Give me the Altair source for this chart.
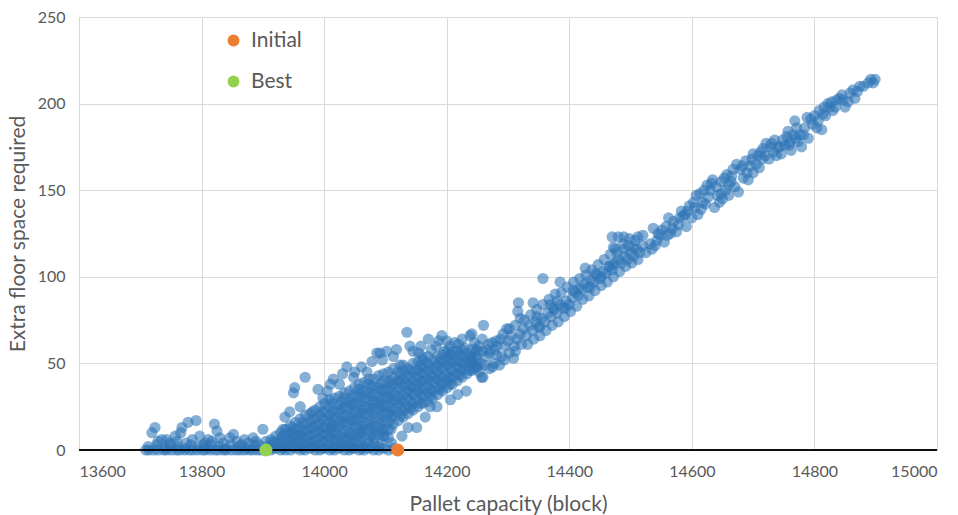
import altair as alt
import pandas as pd

# ---------------- data ----------------
x_ticks = [13600, 13800, 14000, 14200, 14400, 14600, 14800, 15000]
y_ticks = [0, 50, 100, 150, 200, 250]

# left tail, lying on / near zero
tail_zero_x = [13709, 13714, 13722, 13729, 13738, 13743, 13751, 13759, 13764, 13772,
               13780, 13786, 13793, 13801, 13806, 13814, 13822, 13828, 13836, 13841,
               13849, 13857, 13863, 13870, 13878, 13884, 13891, 13897]
tail_pts = [(13713, 2), (13727, 3), (13741, 1), (13749, 3), (13761, 2), (13774, 1),
            (13783, 3), (13796, 2), (13809, 1), (13816, 3), (13829, 2), (13839, 1),
            (13848, 3), (13861, 2), (13874, 1), (13887, 3),
            (13719, 10), (13724, 13), (13735, 6), (13743, 6), (13748, 4), (13757, 8),
            (13766, 10), (13768, 13), (13775, 4), (13778, 16), (13791, 17), (13797, 8),
            (13803, 3), (13806, 4), (13811, 6), (13821, 15), (13825, 11), (13830, 7),
            (13835, 4), (13846, 7), (13852, 9), (13858, 5), (13865, 3), (13870, 6),
            (13876, 4), (13884, 7), (13889, 5), (13893, 3), (13900, 12), (13729, 5),
            (13760, 5), (13785, 6), (13817, 5)]

# dense cloud 13900-14250: x positions and the y values seen at each
blob_x = [13905, 13913, 13921, 13929, 13937, 13945, 13953, 13961, 13969, 13977,
          13985, 13993, 14001, 14009, 14017, 14025, 14033, 14041, 14049, 14057,
          14065, 14073, 14081, 14089, 14097, 14105, 14113, 14121, 14129, 14137,
          14145, 14153, 14161, 14169, 14177, 14185, 14193, 14201, 14209, 14217,
          14225, 14233, 14241, 14249]
blob_y = [[0, 2, 5], [0, 3, 6], [1, 4, 8], [0, 3, 6, 10], [0, 2, 5, 9, 12],
          [0, 3, 7, 10, 14], [1, 4, 8, 12, 16], [0, 2, 6, 9, 13, 18],
          [0, 3, 7, 11, 15, 20], [1, 4, 8, 12, 16, 21], [0, 2, 6, 10, 14, 18, 23],
          [0, 3, 7, 11, 15, 20, 25], [1, 5, 9, 13, 17, 22, 27],
          [0, 3, 7, 11, 16, 20, 25, 29], [0, 2, 6, 10, 14, 19, 23, 30],
          [1, 4, 8, 13, 17, 22, 26, 31], [0, 3, 7, 11, 16, 20, 25, 30, 33],
          [0, 2, 6, 10, 15, 19, 24, 28, 34], [1, 5, 9, 14, 18, 23, 27, 32, 36],
          [0, 3, 8, 12, 17, 21, 26, 31, 35, 38], [0, 2, 7, 12, 16, 21, 25, 30, 34, 39],
          [1, 5, 11, 15, 20, 24, 29, 33, 38, 41], [0, 4, 10, 14, 19, 24, 28, 32, 37, 41],
          [0, 2, 9, 13, 18, 23, 27, 31, 36, 43], [1, 8, 12, 17, 22, 26, 31, 35, 40, 44],
          [0, 7, 12, 16, 21, 25, 30, 34, 39, 45], [1, 15, 20, 24, 29, 33, 38, 42, 47],
          [0, 17, 22, 27, 31, 36, 40, 45], [19, 23, 28, 32, 37, 41, 46, 49],
          [21, 25, 30, 34, 38, 43, 47], [23, 27, 32, 36, 40, 45, 50],
          [25, 29, 34, 38, 42, 46, 51], [27, 31, 35, 40, 44, 48, 52],
          [28, 33, 37, 41, 46, 50, 54], [30, 34, 39, 43, 47, 52],
          [32, 36, 41, 45, 49, 54], [34, 38, 42, 47, 51, 55], [36, 40, 44, 49, 53, 57],
          [38, 42, 46, 51, 55], [40, 44, 48, 52, 57], [42, 46, 50, 54, 58],
          [44, 48, 52, 56], [46, 50, 54, 58], [48, 52, 57]]

# in-between points of the same cloud
blob2_x = [13917, 13933, 13949, 13965, 13981, 13997, 14013, 14029, 14045, 14061,
           14077, 14093, 14109, 14125, 14141, 14157, 14173, 14189, 14205, 14221, 14237]
blob2_y = [[1, 5], [1, 4, 8, 12], [2, 6, 9, 13], [1, 4, 8, 11, 16],
           [2, 5, 9, 13, 18, 22], [1, 5, 9, 13, 18, 22], [1, 5, 9, 13, 18, 22, 27],
           [2, 6, 10, 15, 19, 24, 28], [1, 4, 8, 12, 17, 21, 26, 30],
           [1, 5, 10, 14, 19, 23, 28, 33], [2, 8, 13, 17, 22, 26, 31, 36],
           [4, 11, 15, 20, 25, 29, 34, 38], [12, 18, 22, 27, 31, 36, 40],
           [20, 25, 29, 34, 39, 43], [24, 28, 33, 37, 42, 46], [27, 32, 36, 40, 45, 49],
           [31, 35, 40, 44, 49], [35, 39, 43, 48, 52], [38, 42, 47, 51, 55],
           [43, 47, 51, 55], [46, 50, 54]]

# sparse points above and below the dense cloud
scatter_pts = [(13936, 19), (13944, 22), (13950, 33), (13952, 36), (13961, 25),
               (13969, 42), (13990, 35), (13998, 30), (14010, 38), (14015, 41),
               (14030, 44), (14037, 48), (14048, 42), (14061, 48), (14070, 45),
               (14078, 51), (14086, 56), (14091, 56), (14102, 57), (14113, 54),
               (14124, 49), (14135, 68), (14145, 57), (14154, 56), (14160, 54),
               (14170, 64), (14187, 63), (14192, 66), (14196, 57), (14205, 60),
               (14213, 62), (14219, 61), (14229, 59), (14238, 66), (14241, 67),
               (14127, 8), (14137, 13), (14151, 13), (14165, 19), (14173, 25),
               (14184, 25), (14206, 29), (14218, 32), (14232, 34), (14110, 4),
               (14098, 8), (14080, 7), (14061, 10), (14012, 14), (14257, 42),
               (14259, 42), (14250, 48), (14275, 48), (14158, 60), (14175, 58),
               (14200, 63), (14225, 64), (14210, 57), (14183, 60), (14140, 60),
               (14118, 58), (14095, 52), (14050, 45), (14025, 38), (14005, 34)]

# ridge 14240-14520
ridge_pts = [(14240, 52), (14249, 54), (14255, 50), (14265, 54), (14270, 56),
             (14281, 55), (14290, 54), (14309, 53), (14245, 62), (14252, 60),
             (14258, 64), (14266, 58), (14274, 62), (14282, 60), (14288, 64),
             (14295, 60), (14300, 63), (14305, 66), (14310, 60), (14315, 64),
             (14320, 67), (14325, 70), (14330, 66), (14335, 72), (14340, 69),
             (14345, 74), (14350, 71), (14355, 76), (14360, 74), (14365, 79),
             (14370, 77), (14375, 81), (14380, 79), (14385, 84), (14390, 82),
             (14395, 86), (14400, 84), (14405, 88), (14410, 91), (14415, 89),
             (14420, 93), (14425, 96), (14430, 94), (14435, 98), (14440, 97),
             (14445, 101), (14450, 99), (14455, 103), (14460, 102), (14465, 106),
             (14470, 104), (14475, 108), (14480, 110), (14485, 108), (14490, 112),
             (14495, 110), (14500, 114), (14505, 112), (14510, 116), (14515, 114),
             (14520, 118),
             (14260, 72), (14281, 63), (14298, 70), (14316, 80), (14317, 85),
             (14320, 76), (14341, 85), (14347, 77), (14352, 71), (14357, 99),
             (14369, 84), (14374, 82), (14380, 86), (14385, 97), (14394, 82),
             (14406, 92), (14415, 93), (14426, 105), (14434, 94), (14443, 102),
             (14452, 100), (14466, 106), (14471, 107), (14472, 117), (14470, 123),
             (14480, 123), (14489, 123), (14498, 122), (14507, 121), (14475, 116),
             (14490, 116), (14505, 117)]
ridge_extra = [(14245, 47), (14253, 45), (14262, 49), (14270, 47), (14278, 50),
               (14286, 49), (14294, 52), (14302, 56), (14312, 57), (14322, 61),
               (14332, 61), (14342, 64), (14352, 66), (14362, 69), (14372, 72),
               (14382, 74), (14392, 77), (14402, 80), (14412, 83), (14422, 87),
               (14432, 89), (14442, 92), (14452, 95), (14462, 97), (14472, 100),
               (14482, 103), (14492, 106), (14502, 108), (14512, 110), (14248, 58),
               (14258, 57), (14268, 61), (14278, 58), (14292, 67), (14302, 70),
               (14312, 72), (14327, 75), (14337, 78), (14347, 81), (14357, 84),
               (14367, 87), (14377, 90), (14387, 91), (14397, 94), (14407, 97),
               (14417, 99), (14427, 101), (14437, 104), (14447, 107), (14457, 110),
               (14467, 113), (14478, 114), (14488, 119), (14497, 118), (14512, 123),
               (14520, 124)]

# upper part 14520-14900
upper_pts = [(14532, 119), (14543, 121), (14537, 128), (14551, 127), (14560, 124),
             (14570, 132), (14578, 130), (14583, 138), (14589, 136), (14591, 129),
             (14600, 134), (14605, 140), (14610, 136), (14613, 148), (14618, 143),
             (14622, 142), (14627, 146), (14632, 154), (14640, 152), (14648, 148),
             (14637, 140), (14645, 143), (14650, 145), (14655, 150), (14657, 159),
             (14664, 155), (14670, 152), (14676, 149), (14673, 165), (14684, 157),
             (14679, 162), (14690, 160), (14695, 164), (14700, 171), (14705, 165),
             (14710, 163), (14715, 168), (14721, 177), (14726, 168), (14733, 172),
             (14738, 170), (14744, 175), (14746, 171), (14752, 176), (14760, 178),
             (14765, 182), (14771, 186), (14776, 182), (14779, 175), (14768, 190),
             (14784, 186), (14788, 192), (14790, 180), (14797, 188), (14804, 186),
             (14812, 185), (14814, 194), (14818, 193), (14825, 198), (14830, 196),
             (14836, 202), (14841, 203), (14847, 202), (14855, 201), (14850, 198),
             (14863, 208), (14866, 203), (14874, 210), (14888, 212), (14896, 212),
             (14899, 214), (14730, 177), (14741, 175), (14759, 176), (14773, 178),
             (14562, 134), (14575, 126), (14596, 141), (14607, 147), (14660, 147),
             (14630, 150), (14548, 124), (14586, 135), (14634, 156), (14653, 157),
             (14667, 162), (14700, 160), (14716, 174), (14755, 181), (14808, 196),
             (14822, 200), (14540, 118), (14555, 120), (14565, 125)]
upper_extra = [(14525, 114), (14535, 116), (14545, 125), (14558, 129), (14568, 128),
               (14580, 134), (14593, 138), (14603, 143), (14615, 139), (14620, 150),
               (14625, 153), (14642, 147), (14648, 155), (14660, 153), (14665, 158),
               (14682, 164), (14688, 167), (14692, 156), (14698, 168), (14708, 170),
               (14712, 172), (14720, 170), (14728, 175), (14735, 179), (14748, 179),
               (14757, 184), (14762, 173), (14770, 180), (14782, 182), (14794, 191),
               (14800, 193), (14806, 190), (14816, 198), (14828, 201), (14834, 198),
               (14845, 205), (14858, 206), (14870, 207), (14880, 210), (14892, 214)]

special_names = ["Initial", "Best"]
special_x = [14120, 13905]
special_y = [0, 0]
special_colors = ["#ED7D31", "#92D050"]

# ---------------- build table ----------------
rows = [(x, 0) for x in tail_zero_x] + tail_pts
for bx, ys in zip(blob_x, blob_y):
    rows += [(bx, y) for y in ys]
for bx, ys in zip(blob2_x, blob2_y):
    rows += [(bx, y) for y in ys]
rows += scatter_pts + ridge_pts + ridge_extra + upper_pts + upper_extra
df = pd.DataFrame(rows, columns=["capacity", "floor"])
sp = pd.DataFrame({"capacity": special_x, "floor": special_y, "name": special_names})

FONT = "Lato"
GREY = "#595959"

xscale = alt.Scale(domain=[13600, 15000], nice=False, zero=False)
yscale = alt.Scale(domain=[0, 250], nice=False)

xaxis = alt.Axis(values=x_ticks, title="Pallet capacity (block)", domain=False, ticks=False,
                 grid=True, gridColor="#D9D9D9", labelFont=FONT, labelFontSize=16,
                 labelColor=GREY, labelPadding=13, titleFont=FONT, titleFontSize=21,
                 titleFontWeight="normal", titleColor=GREY, titlePadding=14, format="d")
yaxis = alt.Axis(values=y_ticks, title="Extra floor space required", domain=False, ticks=False,
                 grid=True, gridColor="#D9D9D9", labelFont=FONT, labelFontSize=16,
                 labelColor=GREY, labelPadding=14, titleFont=FONT, titleFontSize=21,
                 titleFontWeight="normal", titleColor=GREY, titlePadding=9)

pts = alt.Chart(df).mark_circle(size=125, opacity=0.58, color="#2E75B6", strokeWidth=0).encode(
    x=alt.X("capacity:Q", scale=xscale, axis=xaxis),
    y=alt.Y("floor:Q", scale=yscale, axis=yaxis),
)

zero_line = alt.Chart(sp).mark_rule(color="#000000", strokeWidth=1.5).encode(
    y=alt.datum(0, scale=yscale),
)

special = alt.Chart(sp).mark_circle(size=170, opacity=1).encode(
    x=alt.X("capacity:Q", scale=xscale),
    y=alt.Y("floor:Q", scale=yscale),
    color=alt.Color("name:N",
                    scale=alt.Scale(domain=special_names, range=special_colors),
                    sort=special_names,
                    legend=alt.Legend(title=None, orient="none", legendX=144, legendY=13,
                                      labelFont=FONT, labelFontSize=21, labelColor=GREY,
                                      symbolType="circle", symbolSize=140,
                                      symbolStrokeWidth=0, rowPadding=19, labelOffset=7)),
)

chart = alt.layer(pts, zero_line, special).properties(
    width=858, height=433,
    autosize=alt.AutoSizeParams(type="none"),
    padding={"left": 79, "top": 17, "right": 21, "bottom": 65},
).configure_view(strokeWidth=0).configure(background="white")

chart.save("out.html", embed_options={"renderer": "svg", "actions": False})
